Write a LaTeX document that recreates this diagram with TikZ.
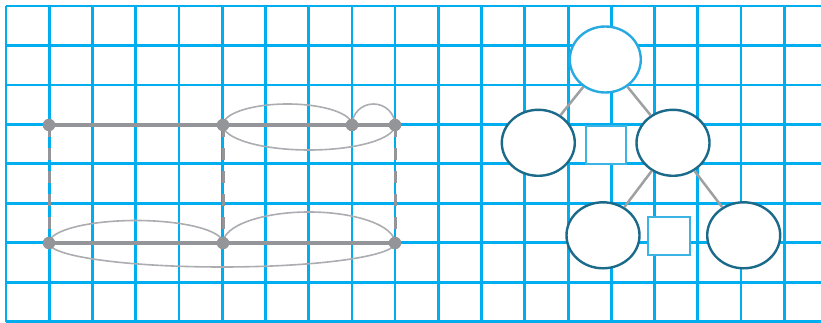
\documentclass[tikz,border=0pt]{standalone}
\usetikzlibrary{shapes.geometric}
\definecolor{gridblue}{HTML}{00AEEF}
\definecolor{linegray}{HTML}{939598}
\definecolor{arcgray}{HTML}{ABADB0}
\definecolor{topblue}{HTML}{27AAE1}
\definecolor{darkteal}{HTML}{1C6A8A}
\definecolor{sqblue}{HTML}{3BB4E5}
\tikzset{
  gridline/.style={draw=gridblue, line width=2.8pt},
  thinline/.style={draw=gridblue, line width=2.1pt},
  dot/.style={circle, fill=linegray, inner sep=0pt, minimum size=12.5pt},
  edgethick/.style={draw=linegray, line width=4pt},
  edgedash/.style={draw=linegray, line width=3pt, dash pattern=on 12pt off 11pt},
  arcline/.style={draw=arcgray, line width=1.6pt},
  pnode/.style={ellipse, draw=darkteal, line width=2.4pt, fill=white, minimum width=73pt, minimum height=66pt, inner sep=0pt},
  topnode/.style={pnode, draw=topblue, minimum width=71pt},
  marbox/.style={rectangle, draw=sqblue, line width=2.4pt, fill=white, minimum width=40pt, minimum height=38pt, inner sep=0pt},
  link/.style={draw=linegray!90, line width=2.5pt}
}
\begin{document}
\begin{tikzpicture}[x=1pt, y=-1pt]
\useasboundingbox (0,0) rectangle (821,323);
\fill[white] (0,0) rectangle (821,323);
% grid
\foreach \k in {0,...,18}{
  \pgfmathsetmacro{\gx}{6+43.24*\k}
  \ifnum\k=8 \draw[thinline] (\gx,6) -- (\gx,321.7);
  \else\ifnum\k=9 \draw[thinline] (\gx,6) -- (\gx,321.7);
  \else \draw[gridline] (\gx,6) -- (\gx,321.7);
  \fi\fi
}
\foreach \k in {0,...,8}{
  \pgfmathsetmacro{\gy}{6+39.46*\k}
  \draw[gridline] (6,\gy) -- (821,\gy);
}
% left graph
\coordinate (t1) at (49,125);
\coordinate (t2) at (223,125);
\coordinate (t3) at (352,125);
\coordinate (t4) at (395,125);
\coordinate (b1) at (49,243);
\coordinate (b2) at (223,243);
\coordinate (b3) at (395,243);
\draw[edgedash] (t1) -- (b1);
\draw[edgedash] (t2) -- (b2);
\draw[edgedash] (t4) -- (b3);
\draw[edgethick] (t1) -- (t4);
\draw[edgethick] (b1) -- (b3);
% arcs
\draw[arcline] (t2) arc[start angle=180, end angle=360, x radius=64.5, y radius=21];
\draw[arcline] (t3) arc[start angle=180, end angle=360, x radius=21.5, y radius=21];
\draw[arcline] (t2) arc[start angle=180, end angle=0, x radius=86, y radius=25];
\draw[arcline] (b1) arc[start angle=180, end angle=360, x radius=87, y radius=22.5];
\draw[arcline] (b2) arc[start angle=180, end angle=360, x radius=86, y radius=31];
\draw[arcline] (b1) arc[start angle=180, end angle=0, x radius=173, y radius=24];
\foreach \n in {t1,t2,t3,t4,b1,b2,b3}{
  \node[dot] (d\n) at (\n) {};
}
% right graph
\node[topnode] (top) at (605.3,59.5) {};
\node[pnode] (ml) at (538.3,142.8) {};
\node[pnode] (mr) at (673,142.8) {};
\node[pnode] (bl) at (603,235.3) {};
\node[pnode] (br) at (743.7,235.3) {};
\node[marbox] (s1) at (605.7,145.3) {};
\node[marbox, minimum width=42pt] (s2) at (669,236) {};
\draw[link] (top) -- (ml);
\draw[link] (top) -- (mr);
\draw[link] (mr) -- (bl);
\draw[link] (mr) -- (br);
\end{tikzpicture}
\end{document}
